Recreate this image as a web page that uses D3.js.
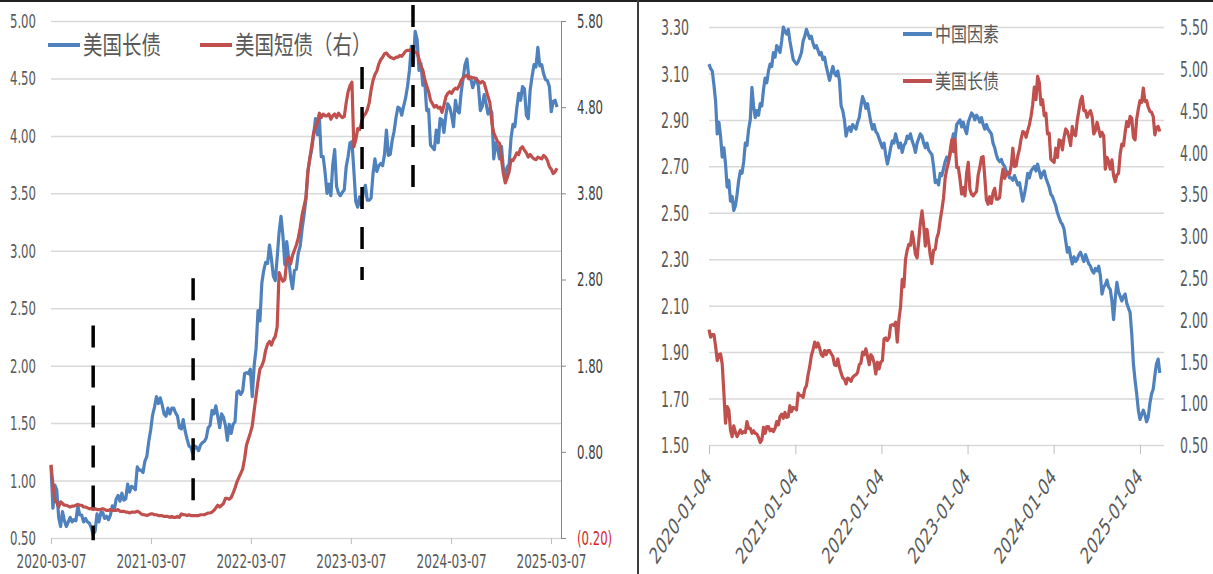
<!DOCTYPE html>
<html><head><meta charset="utf-8">
<script src="https://cdn.jsdelivr.net/npm/d3@7"></script>
<style>html,body{margin:0;padding:0;background:#fff;}svg{display:block;}</style>
</head><body>
<svg id="chart" width="1213" height="574"></svg>
<script>
// ---------------- DATA ----------------
// weekly series, first label date, one value per week
const weekStart = "2020-01-04";
const usLong = [
1.88,
1.79,1.82,1.82,1.68,1.51, 1.58,1.59,1.47,1.13, 0.76,0.96,0.92,0.68, 0.60,0.73,0.65,0.60, 0.64,0.68,0.64,0.66,0.65, 0.78,0.70,0.70,0.64, 0.67,0.64,0.63,0.59,0.53, 0.56,0.71,0.64,0.72, 0.72,0.67,0.69,0.66, 0.70,0.78,0.74,0.84,0.87, 0.82,0.89,0.83,0.84, 0.97,0.90,0.95,0.94,
0.92,1.12,1.09,1.09,1.07, 1.17,1.21,1.34,1.44, 1.57,1.64,1.73,1.67, 1.72,1.66,1.58,1.56,1.63, 1.58,1.63,1.63,1.59, 1.56,1.46,1.45,1.53, 1.43,1.36,1.30,1.29,1.23, 1.30,1.29,1.26,1.31, 1.33,1.34,1.37,1.46, 1.48,1.61,1.58,1.65,1.56, 1.46,1.58,1.55,1.48, 1.35,1.49,1.41,1.49,1.51,
1.77,1.78,1.75,1.78, 1.93,1.94,1.93,1.97, 1.73,2.00,2.15,2.48, 2.39,2.72,2.83,2.90,2.89, 3.05,2.93,2.78,2.74, 2.94,3.16,3.30,3.13, 2.88,3.08,2.93,2.77,2.67, 2.83,2.84,2.98,3.04, 3.19,3.31,3.45,3.69,3.80, 3.88,4.01,4.15,4.01, 4.16,3.82,3.82,3.68, 3.50,3.58,3.48,3.75,3.88,
3.56,3.50,3.48,3.51, 3.53,3.73,3.82,3.94, 3.95,3.70,3.43,3.38,3.47, 3.39,3.52,3.57,3.44, 3.44,3.46,3.67,3.80, 3.69,3.74,3.76,3.74,3.84, 4.05,3.83,3.84,3.96, 4.04,4.16,4.25,4.24, 4.18,4.26,4.33,4.43,4.57, 4.78,4.63,4.91,4.84, 4.57,4.63,4.44,4.47, 4.22,4.23,3.92,3.90,3.88,
4.05,3.94,4.15,4.14, 4.03,4.18,4.28,4.25, 4.18,4.08,4.31,4.22,4.20, 4.38,4.50,4.62,4.67, 4.50,4.50,4.42,4.47,4.50, 4.43,4.22,4.26,4.36, 4.28,4.19,4.24,4.20, 3.80,3.94,3.89,3.80,3.91, 3.72,3.65,3.73,3.75, 3.98,4.10,4.08,4.24, 4.37,4.31,4.43,4.41,4.18, 4.15,4.40,4.52,4.62,
4.60,4.77,4.61,4.62,4.54, 4.49,4.48,4.43,4.21, 4.30,4.31,4.25
];
const usShortStart = "2020-03-07";
const usShort = [
0.65,0.42,0.24,0.21, 0.16,0.22,0.20,0.18, 0.18,0.17,0.16,0.17,0.17, 0.18,0.19,0.18,0.18, 0.16,0.16,0.15,0.14, 0.14,0.13,0.14,0.13,0.13, 0.13,0.14,0.13,0.12, 0.12,0.13,0.12,0.12,0.12, 0.13,0.11,0.11,0.11, 0.10,0.10,0.09,0.10,
0.10,0.10,0.11,0.10,0.08, 0.07,0.07,0.06,0.07, 0.08,0.08,0.07,0.07, 0.06,0.06,0.06,0.05, 0.05,0.05,0.04,0.05,0.04, 0.04,0.05,0.04,0.08, 0.07,0.07,0.06,0.07,0.06, 0.06,0.06,0.06,0.06, 0.07,0.07,0.07,0.08, 0.09,0.09,0.10,0.12,0.15, 0.18,0.16,0.18,0.20, 0.26,0.26,0.25,0.27,
0.32,0.38,0.45,0.50,0.55, 0.60,0.72,0.88,0.95, 1.02,1.10,1.28,1.45, 1.62,1.76,1.80,1.86,1.98, 2.05,2.08,2.04,2.10, 2.14,2.25,2.88,2.82, 2.78,2.80,3.02,3.06,2.98, 3.08,3.14,3.20,3.28, 3.40,3.55,3.65,3.75, 4.05,4.20,4.35,4.50,4.57, 4.62,4.73,4.68,4.72, 4.70,4.70,4.72,4.66,4.70,
4.72,4.68,4.73,4.70, 4.68,4.69,4.85,4.98, 5.05,5.09,4.34,4.42, 4.55,4.54,4.62,4.70,4.72, 4.77,4.85,5.00,5.11, 5.18,5.22,5.30,5.35, 5.38,5.42,5.43,5.40,5.38, 5.37,5.36,5.38,5.38, 5.40,5.39,5.42,5.45,5.46, 5.46,5.47,5.45,5.44, 5.43,5.36,5.28,5.23, 5.12,5.05,4.98,4.88,4.84,
4.80,4.82,4.79,4.80, 4.74,4.82,4.92,4.96, 4.98,4.96,5.00,5.02,5.01, 5.05,5.11,5.14,5.16, 5.17,5.13,5.15,5.14, 5.14,5.12,5.10,5.08,5.10, 5.08,5.00,4.92,4.85, 4.62,4.50,4.45,4.40,4.38, 4.20,4.03,3.92,3.98, 4.05,4.19,4.18,4.22, 4.27,4.25,4.32,4.34,4.30, 4.27,4.22,4.25,4.22,
4.20,4.19,4.22,4.21, 4.20,4.24,4.22,4.18, 4.11,4.08,4.03,4.05,4.09
];
const cnFactor = [
3.14,3.12,3.11,3.05,2.98,2.84,2.89,2.83,2.74,2.78,
2.71,2.61,2.64,2.55,2.57,2.51,2.53,2.58,2.64,2.68,
2.67,2.72,2.80,2.79,2.86,2.90,3.04,2.96,2.91,2.94,
2.92,2.97,2.96,3.03,3.08,3.06,3.11,3.14,3.13,3.19,
3.17,3.22,3.21,3.19,3.24,3.30,3.28,3.27,3.29,3.24,
3.20,3.16,3.15,3.14,3.15,3.17,3.19,3.24,3.26,3.29,
3.27,3.25,3.26,3.23,3.21,3.22,3.20,3.18,3.19,3.16,
3.17,3.13,3.10,3.07,3.10,3.13,3.10,3.09,3.11,3.07,
2.96,2.94,2.90,2.83,2.86,2.87,2.85,2.88,2.87,2.86,
2.89,2.91,2.96,3.00,2.98,2.95,2.97,2.93,2.89,2.86,
2.88,2.85,2.84,2.82,2.80,2.78,2.80,2.75,2.71,2.74,
2.78,2.81,2.80,2.84,2.81,2.78,2.80,2.76,2.79,2.80,
2.83,2.82,2.84,2.81,2.79,2.76,2.80,2.82,2.84,2.83,
2.80,2.78,2.80,2.77,2.76,2.75,2.70,2.63,2.64,2.62,
2.67,2.66,2.69,2.72,2.74,2.72,2.75,2.80,2.84,2.82,
2.88,2.89,2.90,2.87,2.89,2.86,2.84,2.89,2.91,2.93,
2.92,2.90,2.92,2.91,2.89,2.91,2.88,2.86,2.88,2.86,
2.85,2.84,2.80,2.78,2.75,2.73,2.72,2.73,2.71,2.70,
2.68,2.67,2.65,2.65,2.64,2.66,2.64,2.62,2.63,2.59,
2.55,2.58,2.62,2.67,2.65,2.68,2.69,2.70,2.68,2.71,
2.68,2.65,2.67,2.68,2.65,2.63,2.61,2.58,2.57,2.55,
2.53,2.50,2.48,2.46,2.45,2.43,2.38,2.33,2.35,2.31,
2.28,2.31,2.29,2.30,2.32,2.33,2.31,2.29,2.32,2.30,
2.28,2.27,2.25,2.24,2.26,2.25,2.27,2.23,2.15,2.18,
2.19,2.21,2.18,2.17,2.12,2.04,2.13,2.20,2.16,2.14,
2.12,2.14,2.15,2.11,2.09,2.07,1.98,1.85,1.78,1.72,
1.65,1.61,1.63,1.65,1.63,1.60,1.62,1.68,1.72,1.74,
1.80,1.85,1.87,1.81
];
const leftYTicks = [0.5,1.0,1.5,2.0,2.5,3.0,3.5,4.0,4.5,5.0];
const leftY2Ticks = [-0.2,0.8,1.8,2.8,3.8,4.8,5.8];
const leftXTicks = ["2020-03-07","2021-03-07","2022-03-07","2023-03-07","2024-03-07","2025-03-07"];
const rightYTicks = [1.5,1.7,1.9,2.1,2.3,2.5,2.7,2.9,3.1,3.3];
const rightY2Ticks = [0.5,1.0,1.5,2.0,2.5,3.0,3.5,4.0,4.5,5.0,5.5];
const rightXTicks = ["2020-01-04","2021-01-04","2022-01-04","2023-01-04","2024-01-04","2025-01-04"];
const legendLeft = ["美国长债","美国短债（右）"];
const legendRight = ["中国因素","美国长债"];
// dashed markers on the left chart: date, from / to (left-axis values)
const markerDates = ["2020-08-08","2021-08-08","2023-04-17","2023-10-20"];
const markerLo = [0.48,0.68,2.745,3.40];
const markerHi = [2.35,2.76,4.60,5.14];

// ---------------- DRAW ----------------
const SY = 1.5;
const NUM = "'DejaVu Sans Condensed','DejaVu Sans',sans-serif";
const CJK = "'Noto Sans CJK SC','Noto Sans CJK JP',sans-serif";
const BLUE = "#4f81bd", RED = "#c0504d", GRID = "#d9d9d9";
const parse = d3.utcParse("%Y-%m-%d");
const fmt2 = d3.format(".2f");
const fmtParen = d => d < 0 ? `(${fmt2(-d)})` : fmt2(d);
const weekly = (start, n) => d3.range(n).map(i => d3.utcDay.offset(parse(start), 7 * i));

function stretch(sel, dx, dy, rot, sy) {
  const s = sy || SY;
  sel.attr("x", 0).attr("y", 0).attr("dy", null)
     .attr("dominant-baseline", rot == null ? "central" : "auto")
     .attr("transform", `translate(${dx},${dy}) scale(1,${s})` + (rot == null ? "" : ` rotate(${rot})`));
}
function numStyle(sel, size, fill) {
  sel.style("font-family", NUM).style("font-size", size + "px").attr("fill", fill);
}

const svg = d3.select("#chart");
svg.append("rect").attr("width", 1213).attr("height", 574).attr("fill", "#fff");

const longSeries = weekly(weekStart, usLong.length).map((d, i) => ({date: d, v: usLong[i]}));
const shortSeries = weekly(usShortStart, usShort.length).map((d, i) => ({date: d, v: usShort[i]}));
const cnSeries = weekly(weekStart, cnFactor.length).map((d, i) => ({date: d, v: cnFactor[i]}));
const longLeft = longSeries.filter(d => d.date >= parse(usShortStart));

// ===== LEFT CHART =====
const LX0 = 51, LX1 = 551, LR = 561, LT = 21, LB = 538;
const xL = d3.scaleUtc().domain([parse(leftXTicks[0]), parse(leftXTicks[leftXTicks.length - 1])]).range([LX0, LX1]);
const yL = d3.scaleLinear().domain([0.5, 5.0]).range([LB, LT]);
const yL2 = d3.scaleLinear().domain([-0.2, 5.8]).range([LB, LT]);

svg.append("g").attr("transform", `translate(${LX0},0)`)
  .call(d3.axisLeft(yL).tickValues(leftYTicks).tickSize(-(LR - LX0)).tickFormat(""))
  .call(g => g.select(".domain").remove())
  .call(g => g.selectAll(".tick line").attr("stroke", GRID).attr("stroke-width", 1.5));

svg.append("g").attr("transform", `translate(${LX0},0)`)
  .call(d3.axisLeft(yL).tickValues(leftYTicks).tickSize(0).tickFormat(fmt2))
  .call(g => g.select(".domain").remove())
  .call(g => g.selectAll("text").call(stretch, -15, 0).call(numStyle, 13, "#595959"));

svg.append("g").attr("transform", `translate(0,${LB})`)
  .call(d3.axisBottom(xL).tickValues(leftXTicks.map(parse)).tickSize(6).tickSizeOuter(0).tickFormat(d3.utcFormat("%Y-%m-%d")))
  .call(g => g.select(".domain").remove())
  .call(g => g.selectAll(".tick line").attr("stroke", "#bfbfbf"))
  .call(g => g.selectAll("text").call(stretch, 0, 24, null, 1.4).call(numStyle, 13.4, "#595959"));

svg.append("g").attr("transform", `translate(${LR},0)`)
  .call(d3.axisRight(yL2).tickValues(leftY2Ticks).tickSize(5).tickSizeOuter(0).tickFormat(fmtParen))
  .call(g => g.select(".domain").attr("stroke", "#868686"))
  .call(g => g.selectAll(".tick line").attr("stroke", "#868686"))
  .call(g => g.selectAll("text").call(stretch, 16, 0).call(numStyle, 13, "#404040"))
  .call(g => g.selectAll("text").filter(d => d < 0).attr("fill", "#d8262e"));

svg.append("path").datum(longLeft)
  .attr("d", d3.line().x(d => xL(d.date)).y(d => yL(d.v)))
  .attr("fill", "none").attr("stroke", BLUE).attr("stroke-width", 3.2).attr("stroke-linejoin", "round");
svg.append("path").datum(shortSeries)
  .attr("d", d3.line().x(d => xL(d.date)).y(d => yL2(d.v)))
  .attr("fill", "none").attr("stroke", RED).attr("stroke-width", 3.2).attr("stroke-linejoin", "round");

svg.append("g").selectAll("line").data(markerDates).join("line")
  .attr("x1", d => xL(parse(d))).attr("x2", d => xL(parse(d)))
  .attr("y1", (d, i) => yL(markerHi[i])).attr("y2", (d, i) => yL(markerLo[i]))
  .attr("stroke", "#000").attr("stroke-width", 3.5).attr("stroke-dasharray", "22,18");

// legend left
const legL = svg.append("g");
legendLeft.forEach((t, i) => {
  const x = i === 0 ? 48 : 200, col = i === 0 ? BLUE : RED;
  legL.append("line").attr("x1", x).attr("x2", x + 32).attr("y1", 45).attr("y2", 45)
    .attr("stroke", col).attr("stroke-width", 4);
  legL.append("text").text(t).attr("dominant-baseline", "central")
    .attr("transform", `translate(${x + 35},43) scale(1,1.3)`)
    .style("font-family", CJK).style("font-size", "19.5px").attr("fill", "#595959");
});

// ===== RIGHT CHART =====
const RX0 = 709, RX1 = 1140, RR = 1164, RT = 27, RB = 445;
const xR = d3.scaleUtc().domain([parse(rightXTicks[0]), parse(rightXTicks[rightXTicks.length - 1])]).range([RX0, RX1]);
const yR = d3.scaleLinear().domain([1.5, 3.3]).range([RB, RT]);
const yR2 = d3.scaleLinear().domain([0.5, 5.5]).range([RB, RT]);

svg.append("g").attr("transform", `translate(${RX0},0)`)
  .call(d3.axisLeft(yR).tickValues(rightYTicks).tickSize(-(RR - RX0)).tickFormat(""))
  .call(g => g.select(".domain").remove())
  .call(g => g.selectAll(".tick line").attr("stroke", GRID).attr("stroke-width", 1.5));

svg.append("g").attr("transform", `translate(${RX0},0)`)
  .call(d3.axisLeft(yR).tickValues(rightYTicks).tickSize(0).tickFormat(fmt2))
  .call(g => g.select(".domain").remove())
  .call(g => g.selectAll("text").call(stretch, -20, 0).call(numStyle, 14, "#595959"));

svg.append("g").attr("transform", `translate(${RR},0)`)
  .call(d3.axisRight(yR2).tickValues(rightY2Ticks).tickSize(0).tickFormat(fmt2))
  .call(g => g.select(".domain").remove())
  .call(g => g.selectAll("text").call(stretch, 16, 0).call(numStyle, 14, "#595959"));

svg.append("g").attr("transform", `translate(0,${RB})`)
  .call(d3.axisBottom(xR).tickValues(rightXTicks.map(parse)).tickSize(9).tickSizeOuter(0).tickFormat(d3.utcFormat("%Y-%m-%d")))
  .call(g => g.select(".domain").remove())
  .call(g => g.selectAll(".tick line").attr("stroke", "#bfbfbf"))
  .call(g => g.selectAll("text").attr("text-anchor", "end").call(stretch, 3, 33, -46).call(numStyle, 15.5, "#595959"));

svg.append("path").datum(cnSeries)
  .attr("d", d3.line().x(d => xR(d.date)).y(d => yR(d.v)))
  .attr("fill", "none").attr("stroke", BLUE).attr("stroke-width", 3.2).attr("stroke-linejoin", "round");
svg.append("path").datum(longSeries)
  .attr("d", d3.line().x(d => xR(d.date)).y(d => yR2(d.v)))
  .attr("fill", "none").attr("stroke", RED).attr("stroke-width", 3.2).attr("stroke-linejoin", "round");

const legR = svg.append("g");
legendRight.forEach((t, i) => {
  const y = i === 0 ? 33 : 80, col = i === 0 ? BLUE : RED;
  legR.append("line").attr("x1", 903).attr("x2", 932).attr("y1", y + 1).attr("y2", y + 1)
    .attr("stroke", col).attr("stroke-width", 4);
  legR.append("text").text(t).attr("dominant-baseline", "central")
    .attr("transform", `translate(935,${y - 1}) scale(1,1.3)`)
    .style("font-family", CJK).style("font-size", "16px").attr("fill", "#595959");
});

// ===== FRAME =====
svg.append("rect").attr("x", 0).attr("y", 0).attr("width", 1213).attr("height", 2).attr("fill", "#222");
svg.append("rect").attr("x", 637).attr("y", 0).attr("width", 2).attr("height", 574).attr("fill", "#3c3c3c");
</script>
</body></html>
